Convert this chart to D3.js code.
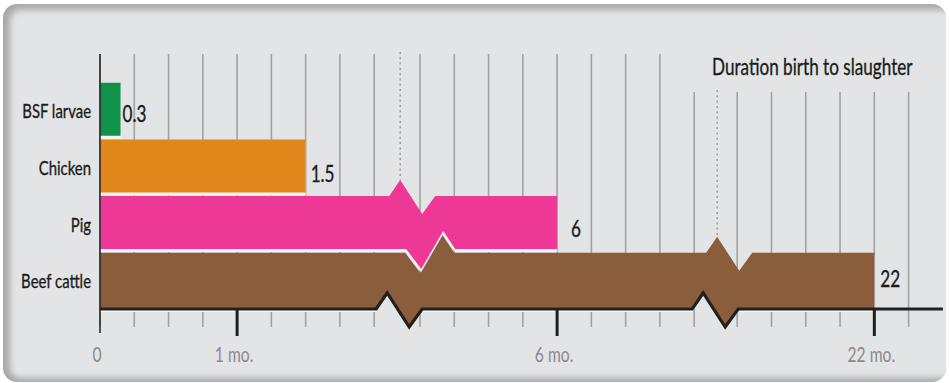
<!DOCTYPE html>
<html>
<head>
<meta charset="utf-8">
<script src="https://cdn.jsdelivr.net/npm/d3@7"></script>
<style>
  html, body { margin: 0; padding: 0; background: #ffffff; }
  svg { display: block; }
  text { font-family: "Lato", "Open Sans", "DejaVu Sans Condensed", sans-serif; }
</style>
</head>
<body>
<svg id="chart" width="949" height="383"></svg>
<script>
// ---------------- data ----------------
const categories = ["BSF larvae", "Chicken", "Pig", "Beef cattle"];
const durations = [0.15, 1.5, 6, 22];          // bar lengths as drawn (months)
const valueLabels = ["0.3", "1.5", "6", "22"];  // printed value labels
const tickValues = [0, 1, 6, 22];
const tickLabels = ["0", "1 mo.", "6 mo.", "22 mo."];
const chartTitle = "Duration birth to slaughter";
const barColors = ["#11924a", "#e0861b", "#ee3896", "#8a5e3c"];

// ---------------- layout ----------------
const axisY = 309;
const svg = d3.select("#chart");

// broken (piecewise) month scale
const breaks = [[2, 5], [7, 21]];
const x = d3.scaleLinear()
  .domain([0, 2, 5, 7, 21, 22.5])
  .range([100, 374.2, 420, 694.2, 737.2, 942.9]);

const y = d3.scaleBand().domain(categories).range([82.7, 305.8]).paddingInner(0.065).paddingOuter(0);
const bw = y.bandwidth();

// weekly grid inside each visible segment
const gridTicks = [].concat(
  d3.range(0, 2.001, 0.25),
  d3.range(5, 7.001, 0.25),
  d3.range(21, 22.251, 0.25)
);

// zigzag shapes for the axis breaks
const P = [[0, 0], [11, -16], [33, 18], [46, 0]];   // peak then trough
const Q = [[0, 0], [15, 20], [37, -18], [49, 0]];   // trough then peak
const axisZig = [[P, 2], [P, -2]];
const edgeZig = {
  2: { 0: { top: [P, 15], bottom: [Q, 32] } },
  3: { 0: { top: [Q, 31], bottom: axisZig[0] }, 1: { top: [P, 12], bottom: axisZig[1] } }
};

// ---------------- card ----------------
const defs = svg.append("defs");
defs.append("clipPath").attr("id", "cardClip")
  .append("rect").attr("x", 3).attr("y", 4).attr("width", 943).attr("height", 378).attr("rx", 14);
const blur = defs.append("filter").attr("id", "soft").attr("x", "-5%").attr("y", "-5%").attr("width", "110%").attr("height", "110%");
blur.append("feGaussianBlur").attr("stdDeviation", 3);

const card = svg.append("g").attr("clip-path", "url(#cardClip)");
card.append("rect").attr("x", 3).attr("y", 4).attr("width", 943).attr("height", 378).attr("fill", "#a9a9a9");
card.append("rect").attr("x", 10).attr("y", 10).attr("width", 945).attr("height", 368).attr("rx", 10)
  .attr("fill", "#e3e4e6").attr("filter", "url(#soft)");

const gridTop = xx => xx > 680 ? 92 : 54;

// ---------------- grid ----------------
svg.append("g").selectAll("line").data(gridTicks).join("line")
  .attr("x1", d => x(d)).attr("x2", d => x(d))
  .attr("y1", d => gridTop(x(d))).attr("y2", 327)
  .attr("stroke", "#a2a2a2").attr("stroke-width", 1.6);

// dotted guides at the breaks
const dotted = [
  { xx: x(breaks[0][0]) + 15 + 11, y2: y("Pig") - 16 },
  { xx: x(breaks[1][0]) + 12 + 11, y2: y("Beef cattle") - 16 }
];
svg.append("g").selectAll("line").data(dotted).join("line")
  .attr("x1", d => d.xx).attr("x2", d => d.xx)
  .attr("y1", d => gridTop(d.xx) - 2).attr("y2", d => d.y2)
  .attr("stroke", "#9a9a9a").attr("stroke-width", 1.5).attr("stroke-dasharray", "2,3.3");

// ---------------- bars ----------------
function zigPts(b, spec, yy) {
  const [pat, off] = spec;
  const x0 = x(breaks[b][0]) + off;
  return pat.map(([dx, dy]) => [x0 + dx, yy + dy]);
}
function axisPoints(xEnd) {
  let pts = [[x(0), axisY]];
  breaks.forEach((br, b) => { if (xEnd > x(br[1])) pts = pts.concat(zigPts(b, axisZig[b], axisY)); });
  pts.push([xEnd, axisY]);
  return pts;
}
function barPoints(i) {
  const cat = categories[i];
  const last = i === categories.length - 1;
  const y0 = y(cat), y1 = last ? axisY : y0 + bw;
  const xe = x(durations[i]);
  let top = [[x(0), y0]];
  let bottom = [];
  breaks.forEach((br, b) => {
    if (durations[i] > br[1]) {
      const spec = edgeZig[i][b];
      top = top.concat(zigPts(b, spec.top, y0));
      bottom = bottom.concat(zigPts(b, spec.bottom, y1));
    }
  });
  top.push([xe, y0]);
  return top.concat([[xe, y1]], bottom.reverse(), [[x(0), y1]]);
}
const line = d3.line();
const order = d3.range(categories.length).reverse();
const barG = svg.append("g");
order.forEach(i => {
  const pts = barPoints(i);
  barG.append("path").attr("d", line(pts) + "Z").attr("transform", "translate(0,3)").attr("fill", "#f6f4f4");
  barG.append("path").attr("d", line(pts) + "Z").attr("fill", barColors[i]);
});

// ---------------- axes ----------------
svg.append("path").attr("d", line(axisPoints(x(22.5))))
  .attr("fill", "none").attr("stroke", "#202020").attr("stroke-width", 3.2).attr("stroke-linejoin", "miter");
svg.append("line").attr("x1", x(0)).attr("x2", x(0)).attr("y1", 54).attr("y2", 333)
  .attr("stroke", "#2a2a2a").attr("stroke-width", 1.6);
svg.append("g").selectAll("line").data(tickValues.slice(1)).join("line")
  .attr("x1", d => x(d)).attr("x2", d => x(d)).attr("y1", axisY).attr("y2", 336)
  .attr("stroke", "#1e1e1e").attr("stroke-width", 3);

// ---------------- texts ----------------
// every text gets a horizontal squeeze (condensed face look) around its anchor point
const squeeze = 0.745;
function place(sel, fx, fy, color, weight) {
  sel.attr("fill", color).attr("stroke", color).attr("stroke-width", weight)
    .attr("transform", (d, i) => `translate(${fx(d, i)},${fy(d, i)}) scale(${squeeze},1)`);
}

// value labels
const labelDx = [2, 5, 14, 6];
const labelDy = [12.5, 16, 14, 7.5];
place(svg.append("g").selectAll("text").data(categories).join("text")
  .attr("font-size", 23)
  .text((d, i) => valueLabels[i]),
  (d, i) => x(durations[i]) + labelDx[i], (d, i) => y(d) + bw / 2 + labelDy[i], "#1c1c1c", 0.35);

// category labels
place(svg.append("g").selectAll("text").data(categories).join("text")
  .attr("text-anchor", "end").attr("font-size", 20)
  .text(d => d),
  () => 91, d => y(d) + bw / 2 + 9, "#1c1c1c", 0.35);

// tick labels
place(svg.append("g").selectAll("text").data(tickValues).join("text")
  .attr("text-anchor", "middle").attr("font-size", 21)
  .text((d, i) => tickLabels[i]),
  d => x(d) - 3, () => 361.5, "#8a8a8a", 0);

// title
place(svg.append("g").selectAll("text").data([chartTitle]).join("text")
  .attr("font-size", 23)
  .text(d => d),
  () => 712, () => 75, "#1c1c1c", 0.35);
</script>
</body>
</html>
